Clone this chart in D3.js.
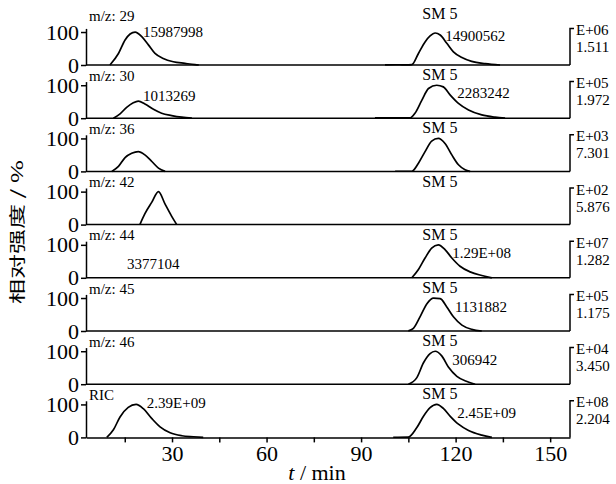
<!DOCTYPE html>
<html>
<head>
<meta charset="utf-8">
<script src="https://cdn.jsdelivr.net/npm/d3@7"></script>
<style>
body { margin: 0; background: #fff; }
text { font-family: "Liberation Serif", "Times New Roman", serif; fill: #000; }
</style>
</head>
<body>
<script>
// channel names and the right-hand scale factors
const mzLabels = ["m/z: 29", "m/z: 30", "m/z: 36", "m/z: 42", "m/z: 44", "m/z: 45", "m/z: 46", "RIC"];
const expLabels = ["E+06", "E+05", "E+03", "E+02", "E+07", "E+05", "E+04", "E+08"];
const fullScale = ["1.511", "1.972", "7.301", "5.876", "1.282", "1.175", "3.450", "2.204"];

// peaks: [t (min), relative intensity (%)]
const mz29Early = [[10.3,0],[13,35],[15.1,76],[16.7,94],[18.3,100],[20.4,86],[22.5,61],[24.6,35],[27.2,20],[30.4,10],[34.1,5],[37.3,1],[38.5,0]];
const mz29Late  = [[97.6,0.5],[101,0.8],[105,0.5],[106.1,1],[108.2,35],[110.3,70],[111.9,88],[113.5,97],[115.1,91],[117.2,66],[119.3,40],[122,23],[125.1,11],[129.4,4],[134.1,0]];
const mz30Early = [[11.4,0],[13.5,13],[15.6,33],[17.7,47],[19.3,52],[21.4,43],[24.1,27],[26.7,15],[29.9,8],[33.1,3],[36.3,0]];
const mz30Late  = [[94.4,1],[100,1],[105.6,1],[107.1,15],[109.3,55],[111.4,90],[114,100],[116.1,95],[118.3,70],[120.9,45],[124.1,25],[128.3,10],[132.5,3],[135.7,0]];
const mz36Early = [[10.9,0],[13,15],[15.1,42],[17.2,55],[19.3,60],[21.4,50],[23.6,30],[25.7,10],[27.8,0]];
const mz36Late  = [[100.8,0.5],[106.1,0.5],[108.2,25],[110.3,60],[112.4,92],[114.5,100],[116.7,84],[118.8,50],[120.9,20],[123,5],[124.6,0]];
const mz42Early = [[19.8,0],[21.4,33],[23.6,68],[25.7,100],[27.8,62],[29.9,25],[31.5,0]];
const mz44Late  = [[106.1,0],[108.2,25],[110.3,60],[112.4,90],[114.5,100],[116.7,85],[118.8,60],[121.4,35],[124.6,18],[128.3,7],[131.5,0]];
const mz45Late  = [[105,0.5],[106.6,8],[108.7,43],[110.9,83],[113,100],[115.1,98],[117.2,73],[119.3,43],[122,18],[125.1,5],[128.3,0]];
const mz46Late  = [[105,0],[107.7,20],[109.8,65],[111.9,93],[113.5,100],[115.6,86],[117.7,52],[120.4,24],[123.6,8],[126.2,0]];
const ricEarly  = [[9.3,0],[11.4,23],[13.5,62],[16.1,91],[18.6,100],[20.9,87],[23.6,57],[26.2,32],[29.4,14],[33.1,5],[36.8,2],[39.9,0]];
const ricLate   = [[100.2,0.5],[105,1],[107.7,30],[109.8,64],[111.9,90],[114,100],[116.1,88],[118.3,64],[120.9,40],[124.1,21],[128.3,7],[131.5,0]];

const panelSeries = [
  [mz29Early, mz29Late],
  [mz30Early, mz30Late],
  [mz36Early, mz36Late],
  [mz42Early],
  [mz44Late],
  [mz45Late],
  [mz46Late],
  [ricEarly, ricLate]
];

// peak area labels: [panel, t, %, text]
const peakLabels = [
  [0, 20.8, 85, "15987998"], [0, 116.7, 73, "14900562"],
  [1, 20.8, 52, "1013269"],  [1, 120.5, 61, "2283242"],
  [4, 15.7, 27, "3377104"],  [4, 118.9, 60, "1.29E+08"],
  [5, 119.8, 58, "1131882"],
  [6, 118.9, 58, "306942"],
  [7, 22, 89, "2.39E+09"],   [7, 120.5, 59, "2.45E+09"]
];

const xTicks = [15, 30, 45, 60, 75, 90, 105, 120, 135, 150];
const smLabel = "SM 5";
const smTime = 115;

const width = 616, height = 484;
const svg = d3.select("body").append("svg")
    .attr("width", width)
    .attr("height", height);

const x = d3.scaleLinear().domain([2.7, 156.3]).range([86, 570]);
const y = d3.scaleLinear().domain([0, 111]).range([0, -36.6]);
const yTop = 111;

const line = d3.line()
    .x(d => x(d[0]))
    .y(d => y(d[1]))
    .curve(d3.curveMonotoneX);

function styleAxis(sel) {
    sel.attr("font-family", "Liberation Serif, serif").attr("font-size", 22);
    sel.selectAll("text").attr("fill", "#000")
        .style("font-family", "'Liberation Serif', serif").style("font-size", "22px");
    sel.selectAll("path, line").attr("stroke", "#000").attr("stroke-width", 1.5);
}

panelSeries.forEach((series, i) => {
    const base = 65 + i * 53.2;
    const g = svg.append("g").attr("transform", `translate(0,${base})`);

    // left axis 0 / 100
    g.append("g")
        .attr("transform", `translate(${x.range()[0]},0)`)
        .call(d3.axisLeft(y).tickValues([0, 100]).tickSize(5).tickSizeOuter(0).tickPadding(2))
        .call(styleAxis);

    // time axis (ticks only on the bottom panel)
    if (i === panelSeries.length - 1) {
        g.append("g")
            .call(d3.axisBottom(x).tickValues(xTicks).tickSize(5).tickSizeOuter(0).tickPadding(3)
                .tickFormat(d => d % 30 === 0 ? d : ""))
            .call(styleAxis);
    } else {
        g.append("line")
            .attr("x1", x.range()[0]).attr("x2", x.range()[1])
            .attr("y1", 0).attr("y2", 0)
            .attr("stroke", "#000").attr("stroke-width", 1.5);
    }

    // right scale bar
    const rx = x.range()[1];
    g.append("path")
        .attr("d", `M${rx + 4},${y(yTop)}H${rx}V0`)
        .attr("fill", "none").attr("stroke", "#000").attr("stroke-width", 1.5);
    g.append("text").attr("x", rx + 6).attr("y", y(yTop) + 6.5)
        .style("font-size", "15px").text(expLabels[i]);
    g.append("text").attr("x", rx + 6).attr("y", y(yTop) + 23.5)
        .style("font-size", "15px").text(fullScale[i]);

    // channel name and SM 5
    const off = i === 0 ? -44 : -37.5;
    g.append("text").attr("x", 89).attr("y", off)
        .style("font-size", "15px").text(mzLabels[i]);
    g.append("text").attr("x", x(smTime)).attr("y", i === 0 ? -46 : -38)
        .attr("text-anchor", "middle")
        .style("font-size", "16px").text(smLabel);

    // traces
    g.selectAll(".trace")
        .data(series)
        .enter().append("path")
        .attr("class", "trace")
        .attr("d", line)
        .attr("fill", "none")
        .attr("stroke", "#000")
        .attr("stroke-width", 1.7);

    // area labels
    g.selectAll(".area-label")
        .data(peakLabels.filter(d => d[0] === i))
        .enter().append("text")
        .attr("class", "area-label")
        .attr("x", d => x(d[1]))
        .attr("y", d => y(d[2]))
        .style("font-size", "15px")
        .text(d => d[3]);
});

// axis titles
svg.append("text")
    .attr("transform", "translate(16,232) rotate(-90) scale(1,0.65)")
    .attr("text-anchor", "middle")
    .attr("dominant-baseline", "central")
    .style("font-family", "'Noto Sans CJK SC', sans-serif")
    .style("font-size", "25px")
    .text("相对强度 / %");

const xt = svg.append("text")
    .attr("x", 317).attr("y", 480)
    .attr("text-anchor", "middle")
    .style("font-size", "22px");
xt.append("tspan").style("font-style", "italic").text("t");
xt.append("tspan").text(" / min");
</script>
</body>
</html>
